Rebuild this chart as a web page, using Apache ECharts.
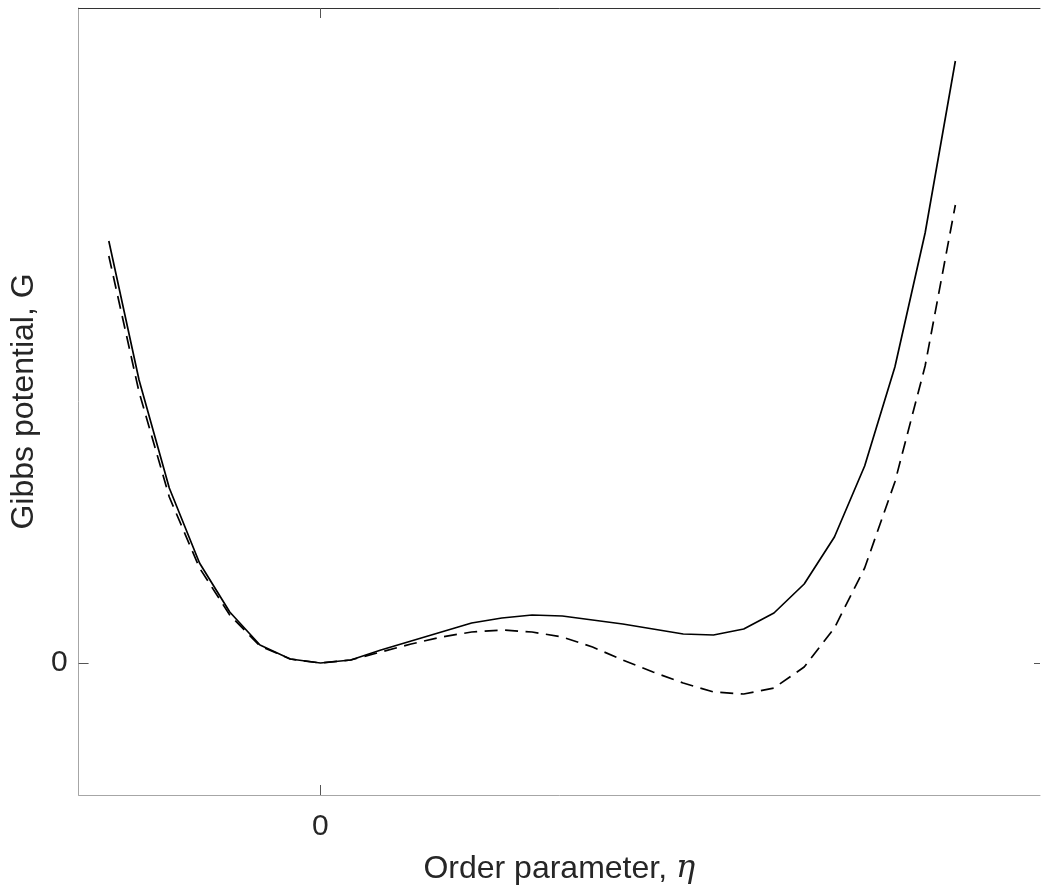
<!DOCTYPE html>
<html>
<head>
<meta charset="utf-8">
<script src="https://cdn.jsdelivr.net/npm/echarts@6/dist/echarts.min.js"></script>
<style>
html,body{margin:0;padding:0;background:#fff;}
#chart{width:1041px;height:890px;}
</style>
</head>
<body>
<div id="chart"></div>
<script>
// Order parameter values (eta)
var eta = [-0.35,-0.30,-0.25,-0.20,-0.15,-0.10,-0.05,0.00,0.05,0.10,0.15,0.20,0.25,0.30,0.35,0.40,0.45,0.50,0.55,0.60,0.65,0.70,0.75,0.80,0.85,0.90,0.95,1.00,1.05];
// Gibbs potential, solid curve
var gSolid = [4.22,2.83,1.75,1.00,0.51,0.18,0.04,0.00,0.03,0.13,0.22,0.31,0.40,0.45,0.48,0.47,0.43,0.39,0.34,0.29,0.28,0.34,0.50,0.79,1.26,1.97,2.96,4.30,6.02];
// Gibbs potential, dashed curve
var gDashed = [4.07,2.71,1.66,0.95,0.48,0.17,0.04,0.00,0.03,0.11,0.19,0.26,0.31,0.33,0.31,0.26,0.16,0.03,-0.09,-0.20,-0.29,-0.31,-0.25,-0.04,0.35,0.95,1.81,2.97,4.58];
var xTicks = [0];
var yTicks = [0];

function pairs(xs, ys){ return xs.map(function(x,i){ return [x, ys[i]]; }); }

var font = 'Liberation Sans, Arial, Helvetica, sans-serif';
var txt = '#262626';
var chart = echarts.init(document.getElementById('chart'), null, {renderer:'canvas'});
chart.setOption({
  animation:false,
  backgroundColor:'#ffffff',
  grid:{left:78, right:1, top:8, bottom:95, containLabel:false},
  xAxis:[{
    type:'value', position:'bottom', min:-0.4, max:1.19,
    axisLine:{show:true, onZero:false, lineStyle:{color:'#a6a6a6', width:1}},
    axisTick:{show:true, inside:true, length:10, customValues:xTicks, lineStyle:{color:'#555555', width:1}},
    axisLabel:{show:true, customValues:xTicks, margin:17, fontSize:30, fontFamily:font, color:txt, formatter:function(v){return String(v);}},
    splitLine:{show:false},
    name:'Order parameter, {i|η}', nameLocation:'middle', nameGap:58,
    nameTextStyle:{fontSize:32, fontFamily:font, color:txt, rich:{i:{fontSize:32, fontFamily:'DejaVu Serif, Liberation Serif, serif', fontStyle:'italic', color:txt}}}
  },{
    type:'value', position:'top', min:-0.4, max:1.19,
    axisLine:{show:true, onZero:false, lineStyle:{color:'#333333', width:1}},
    axisTick:{show:true, inside:true, length:10, customValues:xTicks, lineStyle:{color:'#555555', width:1}},
    axisLabel:{show:false}, splitLine:{show:false}
  }],
  yAxis:[{
    type:'value', position:'left', min:-1.32, max:6.55,
    axisLine:{show:true, onZero:false, lineStyle:{color:'#a6a6a6', width:1}},
    axisTick:{show:true, inside:true, length:10, customValues:yTicks, lineStyle:{color:'#555555', width:1}},
    axisLabel:{show:true, customValues:yTicks, margin:11, fontSize:30, fontFamily:font, color:txt, formatter:function(v){return String(v);}},
    splitLine:{show:false},
    name:'Gibbs potential, G', nameLocation:'middle', nameGap:34, nameRotate:90,
    nameTextStyle:{fontSize:32, fontFamily:font, color:txt}
  },{
    type:'value', position:'right', min:-1.32, max:6.55,
    axisLine:{show:false, onZero:false},
    axisTick:{show:true, inside:true, length:6, customValues:yTicks, lineStyle:{color:'#555555', width:1}},
    axisLabel:{show:false}, splitLine:{show:false}
  }],
  series:[{
    type:'line', name:'solid', data:pairs(eta, gSolid), showSymbol:false, symbol:'none',
    lineStyle:{color:'#000000', width:1.7, type:'solid'}, smooth:false
  },{
    type:'line', name:'dashed', data:pairs(eta, gDashed), showSymbol:false, symbol:'none',
    lineStyle:{color:'#000000', width:1.7, type:[13,7.5]}, smooth:false
  }]
});
</script>
</body>
</html>
